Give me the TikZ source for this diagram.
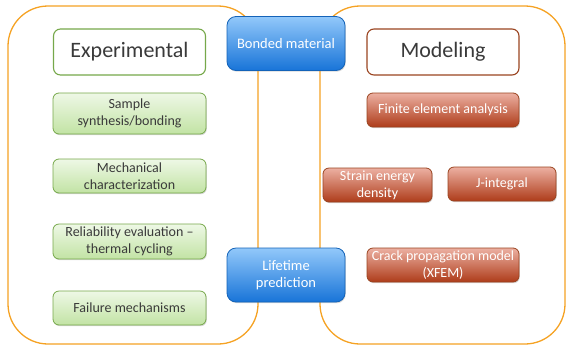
\documentclass[tikz,border=0pt]{standalone}
\usepackage{fontspec}
\setmainfont{Carlito}
\usetikzlibrary{shadows}

\definecolor{frameorange}{HTML}{F5A223}
\definecolor{expgreen}{HTML}{76A84A}
\definecolor{modbrown}{HTML}{9A4420}
\definecolor{greentop}{HTML}{EEF8E6}
\definecolor{greenbot}{HTML}{C2E3A4}
\definecolor{redtop}{HTML}{ECB0A2}
\definecolor{redbot}{HTML}{AE3C1A}
\definecolor{bluetop}{HTML}{92C8FA}
\definecolor{bluebot}{HTML}{1874D8}
\definecolor{textgray}{HTML}{3A3A3A}

\tikzset{
  frame/.style={draw=frameorange, line width=1.3pt, rounded corners=40pt},
  title/.style={draw, line width=1.1pt, fill=white, rounded corners=7pt,
    text=textgray, font=\fontsize{22}{26}\selectfont,
    minimum width=152pt, minimum height=46pt, inner sep=0pt},
  exp/.style={draw=expgreen, line width=0.8pt, rounded corners=6pt,
    top color=greentop, bottom color=greenbot, text=textgray,
    font=\fontsize{14}{17}\selectfont, align=center, inner sep=0pt,
    drop shadow={opacity=0.3, shadow xshift=0.8pt, shadow yshift=-1.2pt}},
  model/.style={draw=modbrown, line width=0.8pt, rounded corners=6pt,
    top color=redtop, bottom color=redbot, text=white,
    font=\fontsize{14}{17}\selectfont, align=center, inner sep=0pt,
    drop shadow={opacity=0.3, shadow xshift=0.8pt, shadow yshift=-1.2pt}},
  hub/.style={draw=bluebot!85!black, line width=0.8pt, rounded corners=9pt,
    top color=bluetop, bottom color=bluebot, text=white,
    font=\fontsize{14.5}{17.5}\selectfont, align=center, inner sep=0pt,
    minimum width=118pt, minimum height=54pt,
    drop shadow={opacity=0.3, shadow xshift=0.8pt, shadow yshift=-1.2pt}}
}

\begin{document}
\begin{tikzpicture}[x=1pt, y=-1pt]
\useasboundingbox (0,0) rectangle (567,346);

% the two groups
\draw[frame] (8,6) rectangle (258,344);
\draw[frame] (320,6) rectangle (565,344);

% experimental side
\node[title, draw=expgreen] (experimental) at (129.5,52) {Experimental};
\node[exp, minimum width=153pt, minimum height=41pt] (synthesis) at (129.5,113.5)
  {Sample\\synthesis/bonding};
\node[exp, minimum width=153pt, minimum height=34pt] (characterization) at (129.5,176)
  {Mechanical\\characterization};
\node[exp, minimum width=153pt, minimum height=35pt] (reliability) at (129.5,241.5)
  {Reliability evaluation --\\thermal cycling};
\node[exp, minimum width=153pt, minimum height=34pt] (failure) at (129.5,308)
  {Failure mechanisms};

% modeling side
\node[title, draw=modbrown] (modeling) at (443,52) {Modeling};
\node[model, minimum width=152pt, minimum height=34pt] (fea) at (443,110)
  {Finite element analysis};
\node[model, minimum width=109pt, minimum height=34pt] (sed) at (377.5,185)
  {Strain energy\\density};
\node[model, minimum width=108pt, minimum height=34pt] (jint) at (502,184)
  {J-integral};
\node[model, minimum width=152pt, minimum height=34pt] (xfem) at (443,265)
  {Crack propagation model\\(XFEM)};

% shared
\node[hub] (bonded) at (286,43.5) {Bonded material};
\node[hub] (lifetime) at (286,275) {Lifetime\\prediction};
\end{tikzpicture}
\end{document}
